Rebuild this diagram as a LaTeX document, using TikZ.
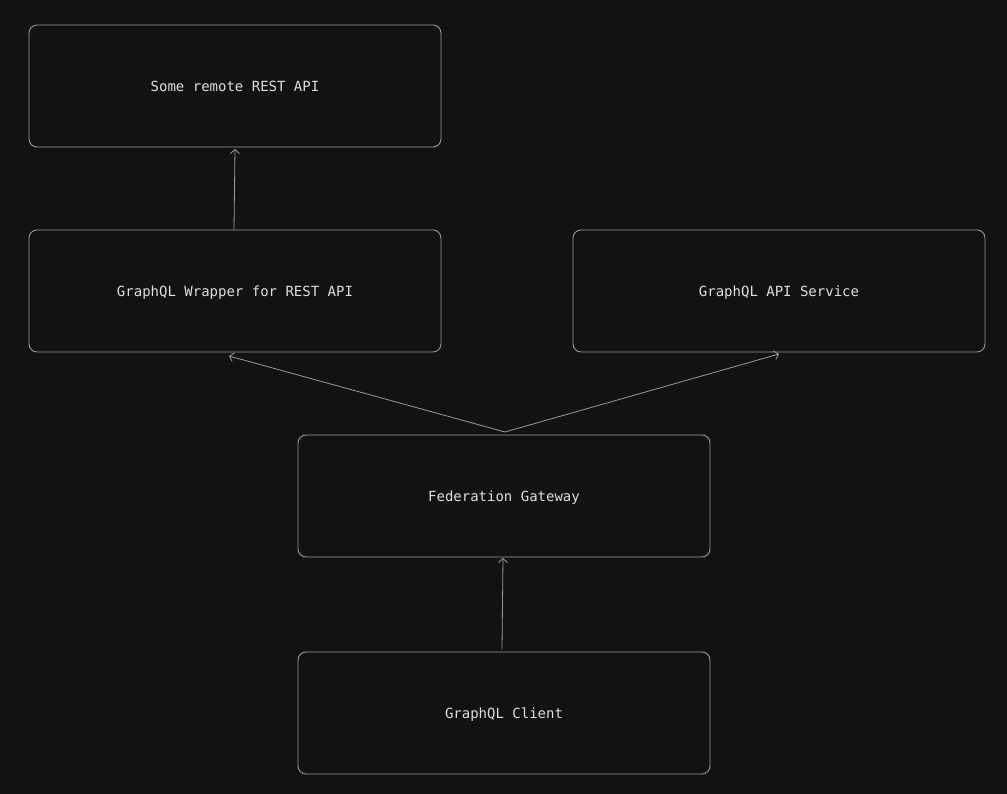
\documentclass[tikz,border=0pt]{standalone}
\usepackage{fontspec}
\setmonofont{DejaVu Sans Mono}
\usetikzlibrary{arrows.meta}
\definecolor{canvas}{HTML}{121212}
\definecolor{edge}{HTML}{9A9A9A}
\definecolor{label}{HTML}{DEDEDE}
\begin{document}
\begin{tikzpicture}[x=1pt,y=1pt,
  box/.style={draw=edge, line width=0.9pt, rounded corners=8pt,
    minimum width=412pt, minimum height=122pt, inner sep=0pt, outer sep=0pt,
    text height=10.4pt, text depth=0pt,
    text=label, font=\ttfamily\fontsize{14}{16}\selectfont},
  arr/.style={draw=edge, line width=0.8pt,
    -{Straight Barb[length=4pt,width=9pt,line width=0.8pt]}}]
  \fill[canvas] (0,0) rectangle (1007,794);
  \useasboundingbox (0,0) rectangle (1007,794);
  % boxes (y measured from the bottom edge)
  \node[box] (rest)    at (235,708) {Some remote REST API};
  \node[box] (wrapper) at (235,503) {GraphQL Wrapper for REST API};
  \node[box] (service) at (779,503) {GraphQL API Service};
  \node[box] (gateway) at (504,298) {Federation Gateway};
  \node[box] (client)  at (504,81)  {GraphQL Client};
  % connectors
  \draw[arr] ([xshift=-2pt,yshift=3pt]client.north) -- ([xshift=-1pt,yshift=-1pt]gateway.south);
  \draw[arr] ([xshift=1pt,yshift=3pt]gateway.north) -- ([xshift=-6pt,yshift=-4pt]wrapper.south);
  \draw[arr] ([xshift=1pt,yshift=3pt]gateway.north) -- ([yshift=-2pt]service.south);
  \draw[arr] ([xshift=-1pt,yshift=1pt]wrapper.north) -- ([yshift=-2pt]rest.south);
\end{tikzpicture}
\end{document}
